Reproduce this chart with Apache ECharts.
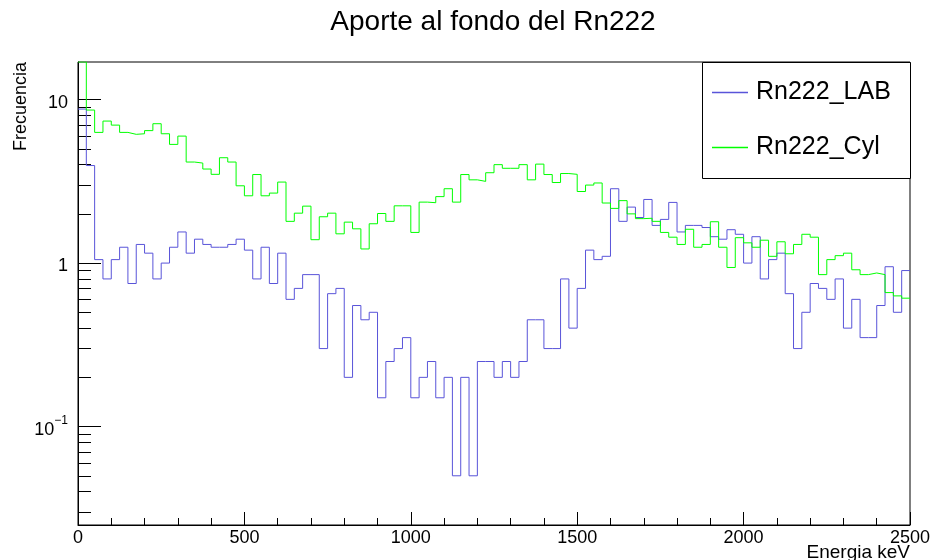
<!DOCTYPE html>
<html>
<head>
<meta charset="utf-8">
<script src="https://cdn.jsdelivr.net/npm/echarts@6/dist/echarts.min.js"></script>
<style>html,body{margin:0;padding:0;background:#fff;}#c{width:931px;height:560px;}</style>
</head>
<body>
<div id="c"></div>
<script>
const titleText = 'Aporte al fondo del Rn222';
const xTitle = 'Energia keV';
const yTitle = 'Frecuencia';
const seriesNames = ['Rn222_LAB', 'Rn222_Cyl'];
const binLow = 0, binWidth = 25, binCount = 100;
const xTicks = [0, 500, 1000, 1500, 2000, 2500];
const yMajorTicks = [0.1, 1, 10];
const yMinorTicks = [0.03,0.04,0.05,0.06,0.07,0.08,0.09,0.2,0.3,0.4,0.5,0.6,0.7,0.8,0.9,2,3,4,5,6,7,8,9];

const lab = [8.75,3.95,1.05,0.8,1.05,1.25,0.75,1.3,1.15,0.8,
  1.0,1.25,1.55,1.15,1.4,1.3,1.25,1.25,1.3,1.4,
  1.2,0.8,1.25,0.75,1.15,0.6,0.7,0.85,0.85,0.3,
  0.65,0.7,0.2,0.55,0.45,0.5,0.15,0.25,0.3,0.35,
  0.15,0.2,0.25,0.15,0.2,0.05,0.2,0.05,0.25,0.25,
  0.2,0.25,0.2,0.25,0.45,0.45,0.3,0.3,0.8,0.4,
  0.7,1.2,1.05,1.1,2.85,1.8,2.2,1.9,2.45,1.7,
  1.85,2.35,1.55,1.7,1.7,1.65,1.45,1.4,1.6,1.5,
  1.0,1.45,0.8,1.05,1.15,0.65,0.3,0.5,0.75,0.7,
  0.6,0.8,0.4,0.6,0.35,0.35,0.55,0.95,0.5,0.9];

const cyl = [17,8.63,6.30,7.39,6.98,6.30,6.13,6.18,6.46,7.12,
  6.18,5.32,5.98,4.15,4.09,3.76,3.49,4.41,4.15,2.97,
  2.58,3.48,2.58,2.68,3.13,1.80,2.02,2.23,1.39,1.92,
  2.02,1.51,1.78,1.62,1.22,1.74,2.01,1.80,2.24,2.24,
  1.54,2.36,2.34,2.55,2.85,2.36,3.48,3.23,3.16,3.57,
  4.00,3.80,3.80,4.00,3.23,4.03,3.48,3.11,3.53,3.49,
  2.74,3.00,3.09,2.33,2.16,2.41,2.00,1.87,1.88,1.80,
  1.54,1.44,1.30,1.61,1.25,1.30,1.79,1.25,0.94,1.43,
  1.33,1.25,1.38,1.10,1.35,1.14,1.30,1.50,1.44,0.85,
  1.05,1.11,1.15,0.91,0.85,0.87,0.85,0.66,0.63,0.61];

function histPoints(vals) {
  const pts = [];
  for (let i = 0; i < binCount; i++) pts.push([binLow + i * binWidth, vals[i]]);
  pts.push([binLow + binCount * binWidth, vals[binCount - 1]]);
  return pts;
}

const FONT = 'Liberation Sans';
const chart = echarts.init(document.getElementById('c'), null, {renderer: 'canvas'});
const yMin = 0.025, yMax = 16.98;
chart.setOption({
  animation: false,
  backgroundColor: '#ffffff',
  textStyle: {fontFamily: FONT, color: '#000'},
  title: {
    text: titleText, left: 493, top: 8, textAlign: 'center', padding: 0,
    textStyle: {fontFamily: FONT, fontSize: 28, fontWeight: 'normal', color: '#000'}
  },
  grid: {left: 78, top: 62, width: 832, height: 463, show: true, borderColor: '#000', borderWidth: 1,
         backgroundColor: 'transparent', containLabel: false, outerBoundsMode: 'none'},
  graphic: [{
    type: 'rect', left: 702, top: 62, z: 10,
    shape: {width: 208, height: 116},
    style: {fill: '#fff', stroke: '#000', lineWidth: 1}
  }],
  legend: {
    orient: 'vertical', left: 712, top: 80, padding: 0, itemGap: 30, z: 20,
    itemWidth: 36, itemHeight: 1.5, icon: 'rect',
    textStyle: {fontFamily: FONT, fontSize: 25, color: '#000', padding: [0, 0, 0, 3]},
    data: seriesNames
  },
  xAxis: {
    type: 'value', min: xTicks[0], max: xTicks[xTicks.length - 1], interval: 500,
    name: xTitle, nameLocation: 'end', nameGap: 0, nameMoveOverlap: false,
    nameTextStyle: {fontFamily: FONT, fontSize: 19, color: '#000', align: 'right', verticalAlign: 'top', padding: [18, 0, 0, 0]},
    axisLine: {show: true, onZero: false, lineStyle: {color: '#000', width: 1}},
    axisTick: {show: true, inside: true, length: 13, lineStyle: {color: '#000'}},
    minorTick: {show: true, splitNumber: 5, length: 7, lineStyle: {color: '#000'}},
    axisLabel: {fontFamily: FONT, fontSize: 18, color: '#000', margin: 4, formatter: function (v) { return String(v); }},
    splitLine: {show: false}
  },
  yAxis: [{
    type: 'log', logBase: 10, min: yMin, max: yMax,
    name: yTitle, nameLocation: 'end', nameGap: 0, nameRotate: 90, nameMoveOverlap: false,
    nameTextStyle: {fontFamily: FONT, fontSize: 18, color: '#000', align: 'right', verticalAlign: 'bottom', padding: [0, 0, 48, 0]},
    axisLine: {show: true, lineStyle: {color: '#000', width: 1}},
    axisTick: {show: true, inside: true, length: 23, customValues: yMajorTicks, lineStyle: {color: '#000'}},
    axisLabel: {
      customValues: yMajorTicks, margin: 10, color: '#000', fontFamily: FONT, fontSize: 18,
      formatter: function (v) {
        if (Math.abs(v - 0.1) < 1e-9) return '{b|10}{s|\u22121}';
        return '{b|' + (Math.abs(v - 1) < 1e-9 ? '1' : '10') + '}';
      },
      rich: {
        b: {fontFamily: FONT, fontSize: 18, lineHeight: 24, verticalAlign: 'bottom', color: '#000'},
        s: {fontFamily: FONT, fontSize: 12, lineHeight: 12, verticalAlign: 'top', color: '#000'}
      }
    },
    splitLine: {show: false}
  }, {
    type: 'log', logBase: 10, min: yMin, max: yMax, position: 'left', offset: 0,
    axisLine: {show: false},
    axisTick: {show: true, inside: true, length: 13, customValues: yMinorTicks, lineStyle: {color: '#000'}},
    axisLabel: {show: false},
    splitLine: {show: false}
  }],
  series: [{
    name: seriesNames[0], type: 'line', step: 'end', yAxisIndex: 0,
    data: histPoints(lab), symbol: 'none', clip: true,
    color: '#5954d9', lineStyle: {color: '#5954d9', width: 1}, z: 3
  }, {
    name: seriesNames[1], type: 'line', step: 'end', yAxisIndex: 0,
    data: histPoints(cyl), symbol: 'none', clip: true,
    color: '#00ff00', lineStyle: {color: '#00ff00', width: 1}, z: 4
  }]
});
</script>
</body>
</html>
